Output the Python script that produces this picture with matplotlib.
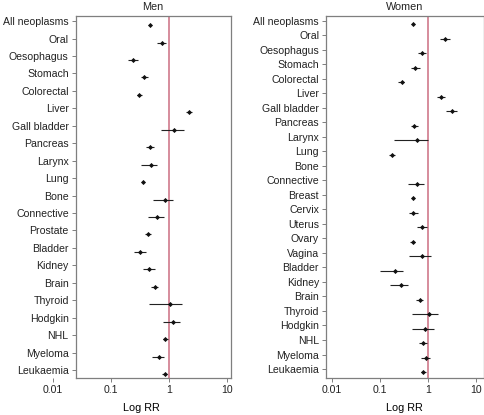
import numpy as np
import matplotlib
matplotlib.use("Agg")
import matplotlib.pyplot as plt

plt.rcParams['font.family'] = ['Liberation Sans', 'DejaVu Sans']
plt.rcParams['font.size'] = 7.6
plt.rcParams['text.color'] = '#222222'
plt.rcParams['xtick.labelcolor'] = '#222222'
plt.rcParams['ytick.labelcolor'] = '#222222'

# Men: relative risk with 95% CI
men_sites = ["All neoplasms", "Oral", "Oesophagus", "Stomach", "Colorectal", "Liver",
             "Gall bladder", "Pancreas", "Larynx", "Lung", "Bone", "Connective",
             "Prostate", "Bladder", "Kidney", "Brain", "Thyroid", "Hodgkin", "NHL",
             "Myeloma", "Leukaemia"]
men_rr = [0.47, 0.77, 0.24, 0.38, 0.31, 2.23, 1.23, 0.48, 0.49, 0.36, 0.85, 0.62,
          0.44, 0.32, 0.45, 0.58, 1.03, 1.16, 0.87, 0.67, 0.85]
men_lo = [0.46, 0.63, 0.20, 0.33, 0.28, 1.98, 0.73, 0.41, 0.33, 0.34, 0.53, 0.43,
          0.39, 0.25, 0.36, 0.50, 0.45, 0.79, 0.78, 0.52, 0.76]
men_hi = [0.48, 0.90, 0.29, 0.44, 0.35, 2.51, 1.81, 0.55, 0.63, 0.38, 1.20, 0.84,
          0.50, 0.41, 0.57, 0.65, 1.65, 1.58, 0.95, 0.82, 0.94]

# Women (Bone has no estimate)
women_sites = ["All neoplasms", "Oral", "Oesophagus", "Stomach", "Colorectal", "Liver",
               "Gall bladder", "Pancreas", "Larynx", "Lung", "Bone", "Connective",
               "Breast", "Cervix", "Uterus", "Ovary", "Vagina", "Bladder", "Kidney",
               "Brain", "Thyroid", "Hodgkin", "NHL", "Myeloma", "Leukaemia"]
women_rr = [0.49, 2.24, 0.75, 0.54, 0.28, 1.82, 3.06, 0.51, 0.57, 0.18, np.nan, 0.59,
            0.49, 0.49, 0.75, 0.48, 0.75, 0.20, 0.27, 0.66, 1.02, 0.85, 0.79, 0.90, 0.79]
women_lo = [0.48, 1.76, 0.62, 0.44, 0.24, 1.51, 2.38, 0.43, 0.19, 0.155, np.nan, 0.38,
            0.47, 0.39, 0.59, 0.42, 0.39, 0.10, 0.16, 0.56, 0.45, 0.45, 0.64, 0.70, 0.69]
women_hi = [0.50, 2.79, 0.91, 0.67, 0.32, 2.20, 4.00, 0.61, 0.97, 0.20, np.nan, 0.83,
            0.51, 0.60, 0.92, 0.54, 1.12, 0.30, 0.38, 0.78, 1.60, 1.29, 0.92, 1.10, 0.91]

xticks = [0.01, 0.1, 1, 10]
xtick_labels = ["0.01", "0.1", "1", "10"]

fig = plt.figure(figsize=(4.84, 4.15), dpi=100)
box_col = "#7f7f7f"


def forest(ax, sites, rr, lo, hi, title, xlim, box_left, pad_top, pad_bot, shift):
    n = len(sites)
    ypos = np.arange(n)
    rr = np.array(rr, float)
    lo = np.array(lo, float)
    hi = np.array(hi, float)
    # points sit a little below their labels
    ax.hlines(ypos + shift, lo, hi, color="#222222", lw=0.8)
    ax.plot(rr, ypos + shift, "D", color="#111111", ms=2.6, mew=0)
    ax.axvline(1, color="#d68c9c", lw=1.4, zorder=0)
    ax.set_xscale("log")
    ax.set_xlim(*xlim)
    ax.set_ylim(n - 1 + pad_bot, -pad_top)
    ax.set_yticks(ypos)
    ax.set_yticklabels(sites)
    ax.set_xticks(xticks)
    ax.set_xticklabels(xtick_labels)
    ax.xaxis.set_minor_locator(matplotlib.ticker.NullLocator())
    ax.spines["left"].set_position(("data", box_left))
    for s in ["top", "bottom"]:
        ax.spines[s].set_bounds(box_left, xlim[1])
    for s in ax.spines.values():
        s.set_color(box_col)
        s.set_linewidth(0.9)
    ax.tick_params(axis="both", length=3, width=0.7, color=box_col, pad=2)
    ax.set_title(title, fontsize=7.8, pad=4)
    ax.set_xlabel("Log RR", fontsize=7.8, labelpad=6)


ax1 = fig.add_axes([52 / 484, 1 - 378 / 415, (231 - 52) / 484, (378 - 16) / 415])
forest(ax1, men_sites, men_rr, men_lo, men_hi, "Men", (0.0098, 11.7), 0.025, 0.29, 0.46, 0.23)
ax1.title.set_position(((153 - 52) / (231 - 52), 1))

ax2 = fig.add_axes([326 / 484, 1 - 378 / 415, (483.5 - 326) / 484, (378 - 16) / 415])
forest(ax2, women_sites, women_rr, women_lo, women_hi, "Women", (0.0075, 14), 0.0075, 0.34, 0.62, 0.23)

fig.savefig("out.png", dpi=100)
